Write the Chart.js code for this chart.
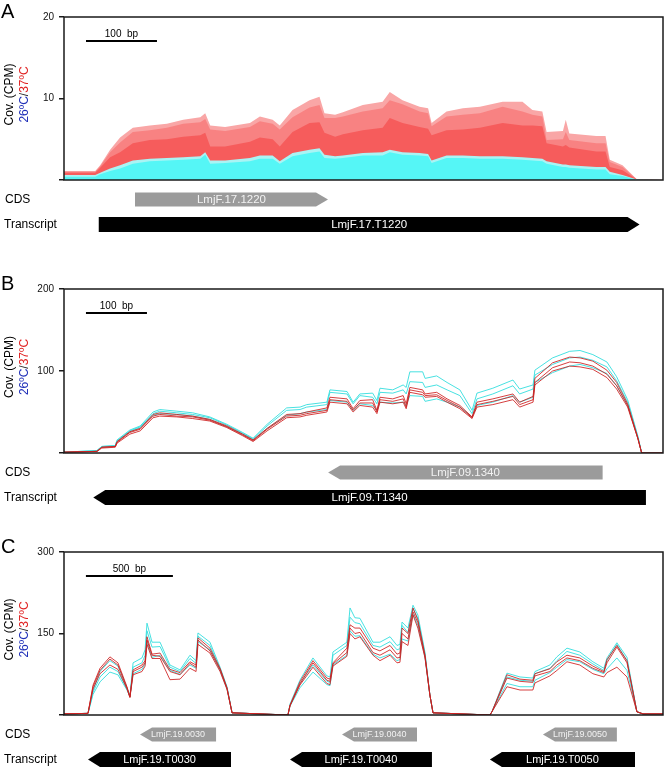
<!DOCTYPE html>
<html>
<head>
<meta charset="utf-8">
<script src="https://cdn.jsdelivr.net/npm/chart.js@4.4.1/dist/chart.umd.min.js"></script>
<style>
  body { margin: 0; background: #fff; }
  #wrap { position: relative; width: 664px; height: 767px; overflow: hidden; }
  canvas { position: absolute; left: 0; }
</style>
</head>
<body>
<div id="wrap">
  <canvas id="chartA" width="664" height="240" style="top:0"></canvas>
  <canvas id="chartB" width="664" height="280" style="top:240px"></canvas>
  <canvas id="chartC" width="664" height="247" style="top:520px"></canvas>
</div>
<script>
// ---- panel A : LmjF.17.1220 (positions in bp, coverage in CPM)
const posA = [0, 44, 51, 65, 79, 97, 121, 145, 168, 192, 199, 206, 227, 262, 276, 294, 304, 322, 346, 360, 367, 382, 393, 421, 449, 459, 477, 501, 513, 518, 539, 562, 586, 618, 646, 660, 674, 680, 703, 707, 712, 750, 763, 769, 787, 807, 844];
const covA_37_r1 = [1.1, 1.1, 1.8, 3.7, 5.2, 6.4, 6.7, 6.9, 7.4, 7.7, 8.2, 6.7, 6.5, 7.0, 7.8, 7.4, 6.7, 8.6, 9.8, 10.2, 8.2, 8.0, 8.3, 9.2, 9.6, 10.8, 9.8, 9.0, 8.8, 7.0, 8.4, 8.8, 9.0, 9.6, 9.6, 8.6, 8.4, 5.9, 6.0, 7.4, 5.7, 5.4, 5.4, 2.5, 1.8, 0.1, 0];
const covA_37_r2 = [1.0, 1.0, 1.7, 3.4, 4.6, 5.9, 6.1, 6.4, 6.9, 7.1, 7.5, 6.2, 6.0, 6.5, 7.2, 6.9, 6.2, 7.7, 8.9, 9.2, 7.6, 7.6, 7.8, 8.4, 8.8, 9.8, 9.3, 8.4, 8.2, 6.6, 7.8, 8.0, 8.2, 9.0, 8.4, 8.0, 7.8, 4.9, 5.0, 5.9, 4.9, 4.5, 4.5, 2.2, 1.6, 0.1, 0];
const covA_37_r3 = [0.9, 0.9, 1.5, 2.8, 3.4, 4.5, 4.9, 5.0, 5.3, 5.5, 5.8, 4.1, 4.1, 4.7, 5.2, 5.0, 4.1, 5.9, 7.0, 7.1, 5.8, 5.3, 5.6, 6.1, 6.4, 7.6, 7.0, 6.5, 6.3, 5.5, 6.1, 6.2, 6.4, 7.0, 6.7, 6.7, 6.6, 4.5, 4.1, 4.3, 4.0, 3.5, 3.5, 1.6, 1.2, 0.05, 0];
const covA_26_r1 = [0.6, 0.6, 0.9, 1.4, 1.8, 2.4, 2.6, 2.7, 2.8, 2.9, 3.4, 2.4, 2.4, 2.7, 3.0, 3.0, 2.3, 3.3, 3.7, 3.9, 3.1, 2.9, 3.0, 3.3, 3.4, 3.7, 3.4, 3.3, 3.2, 2.4, 3.0, 3.0, 2.9, 2.9, 2.8, 2.7, 2.6, 2.3, 1.9, 1.9, 1.8, 1.6, 1.6, 1.0, 0.6, 0.05, 0];
const covA_26_r2 = [0.4, 0.4, 0.7, 1.1, 1.4, 2.0, 2.3, 2.4, 2.5, 2.6, 3.1, 2.0, 2.1, 2.3, 2.6, 2.6, 2.0, 2.9, 3.3, 3.5, 2.7, 2.6, 2.7, 3.0, 3.0, 3.4, 3.1, 3.0, 2.9, 2.1, 2.7, 2.7, 2.6, 2.6, 2.5, 2.4, 2.3, 2.0, 1.6, 1.6, 1.5, 1.3, 1.3, 0.7, 0.5, 0.03, 0];
const ticksA = [0, 10, 20];
const tickLabelsA = ['', '10', '20'];
const genesA = [
  { row: 'CDS', name: 'LmjF.17.1220', start: 100, end: 372, strand: '+' },
  { row: 'Transcript', name: 'LmjF.17.T1220', start: 49, end: 811, strand: '+' }
];

// ---- panel B : LmjF.09.1340
const posB = [0, 54, 62, 84, 87, 108, 125, 146, 157, 185, 211, 239, 267, 293, 310, 333, 365, 387, 398, 431, 436, 464, 474, 485, 506, 513, 518, 539, 556, 561, 567, 588, 592, 611, 628, 649, 669, 677, 703, 736, 747, 769, 772, 801, 829, 846, 867, 890, 906, 924, 941, 947, 982];
const covB_26_r1 = [1, 3, 8, 9, 16, 28, 33, 50, 53, 51, 49, 44, 35, 25, 18, 35, 55, 56, 59, 62, 77, 75, 62, 72, 73, 64, 79, 77, 83, 80, 99, 99, 91, 94, 86, 77, 52, 73, 79, 89, 78, 83, 101, 116, 124, 125, 120, 111, 93, 65, 20, 0, 0];
const covB_26_r2 = [1, 3, 8, 9, 15, 27, 32, 48, 51, 49, 47, 43, 34, 24, 17, 33, 52, 53, 56, 59, 74, 72, 60, 70, 68, 60, 74, 73, 77, 72, 87, 86, 80, 83, 77, 70, 48, 66, 72, 82, 72, 78, 95, 108, 116, 117, 113, 105, 88, 62, 19, 0, 0];
const covB_26_r3 = [1, 2, 7, 8, 14, 26, 31, 46, 48, 47, 45, 41, 32, 23, 16, 30, 46, 48, 50, 53, 64, 62, 52, 60, 58, 52, 62, 61, 62, 58, 70, 69, 63, 66, 62, 56, 44, 58, 62, 70, 62, 68, 86, 98, 106, 108, 104, 97, 82, 58, 18, 0, 0];
const covB_37_r1 = [1, 2, 7, 8, 14, 26, 30, 47, 49, 47, 45, 41, 33, 23, 16, 30, 47, 48, 50, 55, 68, 66, 54, 64, 65, 52, 68, 66, 70, 60, 80, 77, 72, 74, 66, 58, 44, 62, 66, 72, 62, 69, 91, 110, 117, 116, 112, 101, 86, 60, 18, 0, 0];
const covB_37_r2 = [1, 2, 7, 8, 13, 25, 29, 45, 47, 45, 44, 40, 32, 22, 15, 29, 45, 46, 48, 52, 65, 63, 52, 61, 61, 50, 65, 63, 66, 56, 77, 74, 70, 71, 64, 56, 43, 59, 63, 69, 59, 65, 86, 104, 111, 110, 106, 96, 82, 58, 17, 0, 0];
const covB_37_r3 = [1, 2, 6, 7, 12, 23, 27, 43, 45, 44, 42, 39, 31, 21, 14, 27, 43, 44, 46, 50, 62, 60, 50, 58, 56, 48, 62, 60, 62, 54, 74, 71, 68, 69, 62, 54, 42, 56, 59, 65, 56, 62, 83, 100, 106, 105, 102, 92, 78, 56, 17, 0, 0];
const ticksB = [0, 100, 200];
const tickLabelsB = ['', '100', '200'];
const genesB = [
  { row: 'CDS', name: 'LmjF.09.1340', start: 433, end: 883, strand: '-' },
  { row: 'Transcript', name: 'LmjF.09.T1340', start: 48, end: 954, strand: '-' }
];

// ---- panel C : LmjF.19.0030 - 0050
const posC = [0, 138, 167, 207, 264, 310, 362, 379, 397, 448, 466, 477, 506, 552, 609, 667, 724, 759, 770, 839, 897, 937, 966, 1287, 1299, 1356, 1431, 1511, 1529, 1546, 1626, 1644, 1672, 1701, 1776, 1816, 1874, 1914, 1931, 1943, 1977, 2006, 2034, 2075, 2103, 2121, 2448, 2460, 2546, 2621, 2695, 2707, 2793, 2833, 2891, 2965, 3040, 3103, 3121, 3178, 3236, 3293, 3328, 3443];
const covC_26_r1 = [2, 3, 45, 80, 100, 90, 50, 35, 96, 105, 120, 169, 134, 134, 92, 83, 110, 100, 151, 134, 88, 52, 4, 0, 20, 64, 105, 72, 70, 116, 134, 197, 179, 178, 134, 134, 144, 128, 130, 171, 160, 202, 184, 115, 37, 4, 0, 6, 77, 70, 68, 80, 92, 107, 123, 116, 98, 86, 105, 133, 106, 6, 2, 2];
const covC_26_r2 = [2, 3, 42, 70, 88, 80, 48, 33, 88, 96, 110, 155, 125, 126, 88, 80, 104, 95, 145, 128, 85, 50, 4, 0, 18, 58, 92, 62, 60, 110, 128, 180, 170, 168, 128, 125, 135, 120, 122, 165, 152, 196, 178, 112, 37, 4, 0, 6, 70, 64, 62, 76, 86, 100, 117, 110, 94, 82, 100, 130, 100, 6, 2, 2];
const covC_26_r3 = [2, 3, 38, 61, 79, 74, 46, 34, 76, 84, 94, 135, 106, 110, 82, 75, 92, 86, 135, 120, 82, 48, 4, 0, 16, 50, 79, 56, 54, 92, 110, 155, 145, 146, 112, 105, 112, 100, 102, 140, 136, 186, 165, 106, 37, 4, 0, 6, 58, 52, 52, 64, 78, 88, 102, 98, 84, 76, 85, 105, 82, 6, 2, 2];
const covC_37_r1 = [2, 3, 55, 86, 107, 96, 52, 34, 83, 92, 100, 144, 112, 114, 84, 78, 98, 92, 142, 123, 86, 50, 4, 0, 18, 61, 100, 68, 66, 96, 123, 166, 160, 160, 123, 118, 128, 112, 114, 160, 150, 197, 175, 110, 37, 4, 0, 6, 74, 66, 64, 76, 85, 98, 110, 105, 90, 80, 102, 128, 100, 6, 2, 2];
const covC_37_r2 = [2, 3, 52, 82, 103, 92, 50, 33, 80, 88, 96, 138, 110, 108, 80, 74, 95, 88, 138, 118, 84, 49, 4, 0, 17, 57, 96, 64, 62, 94, 115, 160, 150, 152, 115, 110, 120, 105, 106, 150, 140, 190, 170, 108, 37, 4, 0, 6, 68, 62, 60, 72, 80, 92, 105, 100, 86, 78, 96, 125, 96, 6, 2, 2];
const covC_37_r3 = [2, 3, 48, 76, 92, 84, 48, 32, 74, 80, 90, 130, 104, 104, 65, 66, 86, 80, 130, 114, 80, 47, 4, 0, 17, 55, 88, 58, 56, 90, 108, 150, 140, 144, 110, 100, 110, 96, 97, 135, 128, 184, 160, 105, 37, 4, 0, 6, 52, 46, 46, 59, 72, 82, 98, 92, 76, 70, 78, 88, 70, 6, 2, 2];
const ticksC = [0, 150, 300];
const tickLabelsC = ['', '150', '300'];
const genesC = [
  { row: 'CDS', name: 'LmjF.19.0030', start: 437, end: 874, strand: '-' },
  { row: 'CDS', name: 'LmjF.19.0040', start: 1598, end: 2029, strand: '-' },
  { row: 'CDS', name: 'LmjF.19.0050', start: 2753, end: 3178, strand: '-' },
  { row: 'Transcript', name: 'LmjF.19.T0030', start: 138, end: 960, strand: '-' },
  { row: 'Transcript', name: 'LmjF.19.T0040', start: 1299, end: 2115, strand: '-' },
  { row: 'Transcript', name: 'LmjF.19.T0050', start: 2448, end: 3282, strand: '-' }
];

const FONT = "'Liberation Sans', Arial, sans-serif";
const pts = (xs, ys) => xs.map((x, i) => ({ x: x, y: ys[i] }));

// arrow-shaped gene box
function geneArrow(ctx, xs, xe, top, h, strand, head) {
  const mid = top + h / 2;
  ctx.beginPath();
  if (strand === '+') {
    ctx.moveTo(xs, top); ctx.lineTo(xe - head, top); ctx.lineTo(xe, mid);
    ctx.lineTo(xe - head, top + h); ctx.lineTo(xs, top + h);
  } else {
    ctx.moveTo(xe, top); ctx.lineTo(xs + head, top); ctx.lineTo(xs, mid);
    ctx.lineTo(xs + head, top + h); ctx.lineTo(xe, top + h);
  }
  ctx.closePath();
  ctx.fill();
}

// frame, letter, scale bar, y title and gene tracks
function trackPlugin(cfg) {
  return {
    id: 'track' + cfg.letter,
    afterDraw(chart) {
      const ctx = chart.ctx, a = chart.chartArea, x = chart.scales.x;
      ctx.save();
      ctx.strokeStyle = '#1a1a1a';
      ctx.lineWidth = 1.5;
      ctx.strokeRect(a.left, a.top, a.right - a.left, a.bottom - a.top);

      ctx.fillStyle = '#000';
      ctx.font = '20px ' + FONT;
      ctx.textAlign = 'left';
      ctx.textBaseline = 'alphabetic';
      ctx.fillText(cfg.letter, 1, a.top + 1);

      // scale bar
      const b0 = x.getPixelForValue(cfg.bar[0]);
      const b1 = x.getPixelForValue(cfg.bar[0] + cfg.bar[1]);
      const by = a.top + 24;
      ctx.strokeStyle = '#000';
      ctx.lineWidth = 2;
      ctx.beginPath(); ctx.moveTo(b0, by); ctx.lineTo(b1, by); ctx.stroke();
      ctx.font = '10px ' + FONT;
      ctx.textAlign = 'center';
      ctx.fillText(cfg.bar[1] + '  bp', (b0 + b1) / 2, by - 4);

      // y title (rotated)
      const cy = (a.top + a.bottom) / 2 - 4;
      ctx.font = '12px ' + FONT;
      ctx.textBaseline = 'middle';
      ctx.save();
      ctx.translate(10, cy); ctx.rotate(-Math.PI / 2);
      ctx.fillStyle = '#000';
      ctx.fillText('Cov. (CPM)', 0, 0);
      ctx.restore();
      const parts = [['26ºC', '#1f2fb8'], ['/', '#222'], ['37ºC', '#e02222']];
      const tw = parts.reduce((s, p) => s + ctx.measureText(p[0]).width, 0);
      ctx.save();
      ctx.translate(25, cy); ctx.rotate(-Math.PI / 2);
      ctx.textAlign = 'left';
      let px = -tw / 2;
      parts.forEach(p => { ctx.fillStyle = p[1]; ctx.fillText(p[0], px, 0); px += ctx.measureText(p[0]).width; });
      ctx.restore();

      // gene rows
      const rows = { CDS: { top: a.bottom + 12.5, h: 14, fill: '#9b9b9b', txt: '#f2f2f2', fs: cfg.cdsFont },
                     Transcript: { top: a.bottom + 37, h: 15, fill: '#000', txt: '#fff', fs: cfg.txFont } };
      ctx.font = '12px ' + FONT;
      ctx.fillStyle = '#000';
      ctx.textAlign = 'left';
      ctx.fillText('CDS', 5, rows.CDS.top + rows.CDS.h / 2);
      ctx.fillText('Transcript', 4, rows.Transcript.top + rows.Transcript.h / 2);
      cfg.genes.forEach(g => {
        const r = rows[g.row];
        const xs = x.getPixelForValue(g.start), xe = x.getPixelForValue(g.end);
        ctx.fillStyle = r.fill;
        geneArrow(ctx, xs, xe, r.top, r.h, g.strand, 12);
        ctx.fillStyle = r.txt;
        ctx.font = r.fs + 'px ' + FONT;
        ctx.textAlign = 'center';
        ctx.fillText(g.name, (xs + xe) / 2, r.top + r.h / 2 + 0.5);
      });
      ctx.restore();
    }
  };
}

function yAxis(max, ticks, labels) {
  return {
    min: 0, max: max,
    afterBuildTicks: s => { s.ticks = ticks.map(v => ({ value: v })); },
    afterFit: s => { s.width = 64; },
    ticks: { callback: (v, i) => labels[i], font: { size: 10, family: FONT }, color: '#111', padding: 5 },
    grid: { drawOnChartArea: false, tickLength: 5, color: '#1a1a1a', lineWidth: 1.5 },
    border: { display: false }
  };
}

function makeChart(id, cfg) {
  return new Chart(document.getElementById(id), {
    type: 'line',
    data: { datasets: cfg.datasets },
    options: {
      responsive: false,
      animation: false,
      layout: { padding: { left: 0, right: 1, top: cfg.padTop, bottom: cfg.padBottom } },
      elements: { point: { radius: 0 }, line: { tension: 0 } },
      plugins: { legend: { display: false }, tooltip: { enabled: false } },
      scales: {
        x: { type: 'linear', min: 0, max: cfg.xmax, display: false },
        y: yAxis(cfg.ymax, cfg.ticks, cfg.tickLabels)
      }
    },
    plugins: [trackPlugin(cfg)]
  });
}

const area = (data, color) => ({ data: data, backgroundColor: color, borderWidth: 0, fill: 'origin' });
const line = (data, color) => ({ data: data, borderColor: color, borderWidth: 1, fill: false });
const CY = 'rgba(52,222,222,0.9)', RD = 'rgba(206,30,30,0.85)';

makeChart('chartA', {
  letter: 'A', xmax: 844, ymax: 20, ticks: ticksA, tickLabels: tickLabelsA,
  padTop: 17, padBottom: 60, bar: [31, 100], genes: genesA, cdsFont: 11.5, txFont: 11.5,
  datasets: [
    area(pts(posA, covA_26_r2), '#55f6f6'),
    area(pts(posA, covA_26_r1), '#a9f4f4'),
    area(pts(posA, covA_37_r3), '#f65c5c'),
    area(pts(posA, covA_37_r2), '#f88282'),
    area(pts(posA, covA_37_r1), '#f9a6a6')
  ]
});

makeChart('chartB', {
  letter: 'B', xmax: 982, ymax: 200, ticks: ticksB, tickLabels: tickLabelsB,
  padTop: 49, padBottom: 67, bar: [36, 100], genes: genesB, cdsFont: 11.5, txFont: 11.5,
  datasets: [
    line(pts(posB, covB_37_r1), RD), line(pts(posB, covB_37_r2), RD), line(pts(posB, covB_37_r3), RD),
    line(pts(posB, covB_26_r1), CY), line(pts(posB, covB_26_r2), CY), line(pts(posB, covB_26_r3), CY)
  ]
});

makeChart('chartC', {
  letter: 'C', xmax: 3443, ymax: 300, ticks: ticksC, tickLabels: tickLabelsC,
  padTop: 32, padBottom: 52, bar: [126, 500], genes: genesC, cdsFont: 9, txFont: 11,
  datasets: [
    line(pts(posC, covC_37_r1), RD), line(pts(posC, covC_37_r2), RD), line(pts(posC, covC_37_r3), RD),
    line(pts(posC, covC_26_r1), CY), line(pts(posC, covC_26_r2), CY), line(pts(posC, covC_26_r3), CY)
  ]
});
</script>
</body>
</html>
